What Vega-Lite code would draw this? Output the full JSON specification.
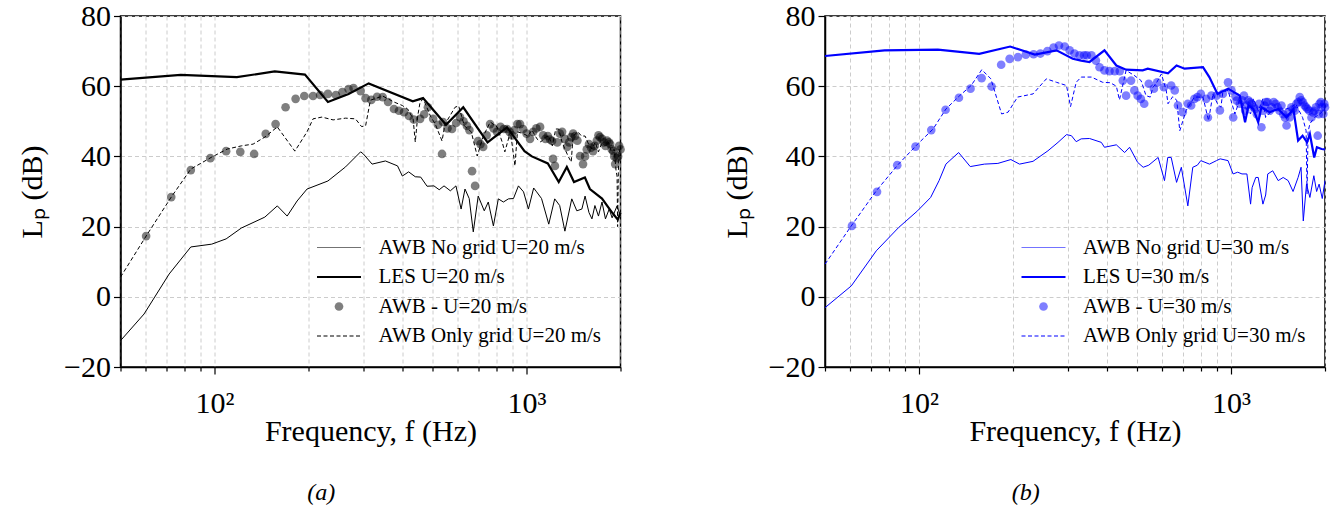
{
  "$schema": "https://vega.github.io/schema/vega-lite/v6.json",
  "background": "white",
  "padding": {"left": 16.5, "top": 0, "right": 4, "bottom": 4},
  "spacing": 94.5,
  "config": {
    "font": "Liberation Serif",
    "view": {"stroke": "black", "strokeWidth": 1.5},
    "axis": {
      "labelFont": "Liberation Serif", "titleFont": "Liberation Serif",
      "labelFontSize": 30, "titleFontSize": 30, "titleFontWeight": "normal",
      "labelColor": "black", "titleColor": "black",
      "domainColor": "black", "domainWidth": 1.5,
      "tickColor": "black", "tickWidth": 1.2,
      "gridColor": "#cccccc", "gridDash": [4, 3], "gridWidth": 1,
      "labelFlush": false, "labelOverlap": false
    }
  },
  "resolve": {"scale": {"color": "independent"}, "legend": {"color": "independent"}},
  "datasets": {
    "a": [
      {"s":"NG","f":50,"L":-12.5},{"s":"NG","f":59.5,"L":-4.9},{"s":"NG","f":71.6,"L":6.5},{"s":"NG","f":84,"L":14.2},{"s":"NG","f":98,"L":15},{"s":"NG","f":109,"L":16.5},{"s":"NG","f":122,"L":19.6},{"s":"NG","f":145,"L":22.7},{"s":"NG","f":159,"L":25.9},{"s":"NG","f":171,"L":23},{"s":"NG","f":184,"L":27.3},{"s":"NG","f":198,"L":30.7},{"s":"NG","f":231,"L":33},{"s":"NG","f":263,"L":37},{"s":"NG","f":294,"L":41.3},{"s":"NG","f":300,"L":40.7},{"s":"NG","f":320,"L":37.8},{"s":"NG","f":353,"L":38.7},{"s":"NG","f":386,"L":37.3},{"s":"NG","f":400,"L":34.4},{"s":"NG","f":419,"L":35.6},{"s":"NG","f":440,"L":34.2},{"s":"NG","f":458,"L":34.1},{"s":"NG","f":480,"L":31.5},{"s":"NG","f":505,"L":31.6},{"s":"NG","f":525,"L":30.5},{"s":"NG","f":544,"L":31.6},{"s":"NG","f":570,"L":30.2},{"s":"NG","f":594,"L":31.6},{"s":"NG","f":617,"L":25},{"s":"NG","f":635,"L":30.7},{"s":"NG","f":655,"L":28},{"s":"NG","f":675,"L":18.5},{"s":"NG","f":700,"L":28.7},{"s":"NG","f":732,"L":24.5},{"s":"NG","f":754,"L":27},{"s":"NG","f":783,"L":20.2},{"s":"NG","f":812,"L":27.9},{"s":"NG","f":843,"L":27},{"s":"NG","f":875,"L":27.9},{"s":"NG","f":908,"L":28},{"s":"NG","f":942,"L":31.6},{"s":"NG","f":978,"L":29.9},{"s":"NG","f":1014,"L":25},{"s":"NG","f":1054,"L":31},{"s":"NG","f":1077,"L":29.9},{"s":"NG","f":1117,"L":28},{"s":"NG","f":1178,"L":20.7},{"s":"NG","f":1231,"L":27.9},{"s":"NG","f":1277,"L":26},{"s":"NG","f":1327,"L":18.7},{"s":"NG","f":1396,"L":27.9},{"s":"NG","f":1449,"L":24.5},{"s":"NG","f":1504,"L":25},{"s":"NG","f":1540,"L":28.7},{"s":"NG","f":1585,"L":24},{"s":"NG","f":1620,"L":22.2},{"s":"NG","f":1656,"L":26},{"s":"NG","f":1700,"L":23},{"s":"NG","f":1745,"L":27},{"s":"NG","f":1790,"L":22.2},{"s":"NG","f":1840,"L":25},{"s":"NG","f":1880,"L":22.5},{"s":"NG","f":1950,"L":25.9},{"s":"NG","f":2000,"L":23},
      {"s":"LES","f":50,"L":61.9},{"s":"LES","f":78,"L":63.2},{"s":"LES","f":118,"L":62.6},{"s":"LES","f":156,"L":64.2},{"s":"LES","f":195,"L":63.3},{"s":"LES","f":231,"L":55.5},{"s":"LES","f":269,"L":57.8},{"s":"LES","f":312,"L":60.8},{"s":"LES","f":432,"L":55.7},{"s":"LES","f":466,"L":56.6},{"s":"LES","f":552,"L":49},{"s":"LES","f":627,"L":54},{"s":"LES","f":750,"L":44},{"s":"LES","f":866,"L":48.3},{"s":"LES","f":985,"L":41.5},{"s":"LES","f":1040,"L":40},{"s":"LES","f":1170,"L":38},{"s":"LES","f":1268,"L":32.7},{"s":"LES","f":1346,"L":37},{"s":"LES","f":1419,"L":32.7},{"s":"LES","f":1538,"L":34},{"s":"LES","f":1596,"L":30.7},{"s":"LES","f":1745,"L":28},{"s":"LES","f":1880,"L":24},{"s":"LES","f":1960,"L":22},{"s":"LES","f":2000,"L":24},
      {"s":"OG","f":50,"L":5.6},{"s":"OG","f":60.4,"L":17.3},{"s":"OG","f":72.7,"L":28.4},{"s":"OG","f":84,"L":36.4},{"s":"OG","f":98,"L":39.8},{"s":"OG","f":110,"L":42.1},{"s":"OG","f":122,"L":43},{"s":"OG","f":133,"L":43.5},{"s":"OG","f":145,"L":45.5},{"s":"OG","f":159,"L":48.4},{"s":"OG","f":181,"L":41.5},{"s":"OG","f":198,"L":47},{"s":"OG","f":207,"L":50.7},{"s":"OG","f":221,"L":51.2},{"s":"OG","f":240,"L":50.4},{"s":"OG","f":263,"L":50.9},{"s":"OG","f":283,"L":50.7},{"s":"OG","f":296,"L":48.5},{"s":"OG","f":305,"L":48.7},{"s":"OG","f":316,"L":56},{"s":"OG","f":346,"L":57.2},{"s":"OG","f":376,"L":55.5},{"s":"OG","f":400,"L":54.5},{"s":"OG","f":416,"L":53.5},{"s":"OG","f":433,"L":50.7},{"s":"OG","f":440,"L":44.1},{"s":"OG","f":448,"L":51.5},{"s":"OG","f":456,"L":55.5},{"s":"OG","f":467,"L":56.4},{"s":"OG","f":492,"L":51.5},{"s":"OG","f":510,"L":49.2},{"s":"OG","f":536,"L":44.4},{"s":"OG","f":548,"L":49.2},{"s":"OG","f":590,"L":54},{"s":"OG","f":606,"L":54.4},{"s":"OG","f":632,"L":48.7},{"s":"OG","f":665,"L":47},{"s":"OG","f":695,"L":40.1},{"s":"OG","f":727,"L":45.8},{"s":"OG","f":765,"L":49.8},{"s":"OG","f":805,"L":48.4},{"s":"OG","f":836,"L":44},{"s":"OG","f":852,"L":41.3},{"s":"OG","f":888,"L":47},{"s":"OG","f":918,"L":37.3},{"s":"OG","f":935,"L":47},{"s":"OG","f":975,"L":46.5},{"s":"OG","f":1010,"L":45.8},{"s":"OG","f":1040,"L":47.5},{"s":"OG","f":1080,"L":45},{"s":"OG","f":1110,"L":44.1},{"s":"OG","f":1150,"L":45.5},{"s":"OG","f":1178,"L":45.8},{"s":"OG","f":1210,"L":43},{"s":"OG","f":1240,"L":47.8},{"s":"OG","f":1268,"L":47.8},{"s":"OG","f":1300,"L":44},{"s":"OG","f":1327,"L":42.1},{"s":"OG","f":1360,"L":40},{"s":"OG","f":1390,"L":38.4},{"s":"OG","f":1410,"L":45.8},{"s":"OG","f":1460,"L":47},{"s":"OG","f":1500,"L":45.8},{"s":"OG","f":1540,"L":45.8},{"s":"OG","f":1580,"L":43.5},{"s":"OG","f":1620,"L":42.1},{"s":"OG","f":1660,"L":44},{"s":"OG","f":1700,"L":41.3},{"s":"OG","f":1745,"L":44},{"s":"OG","f":1787,"L":43},{"s":"OG","f":1830,"L":44},{"s":"OG","f":1870,"L":41.3},{"s":"OG","f":1910,"L":42},{"s":"OG","f":1935,"L":36},{"s":"OG","f":1950,"L":34.4},{"s":"OG","f":1958,"L":20},{"s":"OG","f":1968,"L":35},{"s":"OG","f":1980,"L":42},{"s":"OG","f":2000,"L":40},
      {"s":"AWB","f":60.4,"L":17.3},{"s":"AWB","f":72.7,"L":28.4},{"s":"AWB","f":84,"L":36.1},{"s":"AWB","f":97,"L":39.5},{"s":"AWB","f":109,"L":41.5},{"s":"AWB","f":121,"L":41.3},{"s":"AWB","f":134,"L":40.7},{"s":"AWB","f":146,"L":46.4},{"s":"AWB","f":157,"L":49.2},{"s":"AWB","f":169,"L":54},{"s":"AWB","f":182,"L":56.4},{"s":"AWB","f":194,"L":57.2},{"s":"AWB","f":207,"L":57.2},{"s":"AWB","f":218,"L":57.5},{"s":"AWB","f":231,"L":57.8},{"s":"AWB","f":245,"L":57.5},{"s":"AWB","f":257,"L":58.3},{"s":"AWB","f":269,"L":59.2},{"s":"AWB","f":279,"L":59.5},{"s":"AWB","f":294,"L":58.6},{"s":"AWB","f":305,"L":56.6},{"s":"AWB","f":318,"L":56.1},{"s":"AWB","f":332,"L":57},{"s":"AWB","f":346,"L":56.9},{"s":"AWB","f":360,"L":55.5},{"s":"AWB","f":376,"L":53.5},{"s":"AWB","f":390,"L":53},{"s":"AWB","f":405,"L":52.6},{"s":"AWB","f":420,"L":51.5},{"s":"AWB","f":435,"L":50.5},{"s":"AWB","f":456,"L":50.7},{"s":"AWB","f":470,"L":52},{"s":"AWB","f":483,"L":54},{"s":"AWB","f":502,"L":50.7},{"s":"AWB","f":520,"L":49},{"s":"AWB","f":536,"L":40.7},{"s":"AWB","f":540,"L":49.8},{"s":"AWB","f":558,"L":48},{"s":"AWB","f":577,"L":47.8},{"s":"AWB","f":595,"L":49.5},{"s":"AWB","f":612,"L":51.2},{"s":"AWB","f":628,"L":50},{"s":"AWB","f":644,"L":48.7},{"s":"AWB","f":656,"L":47.5},{"s":"AWB","f":669,"L":35.8},{"s":"AWB","f":684,"L":31.6},{"s":"AWB","f":699,"L":44.4},{"s":"AWB","f":712,"L":43.5},{"s":"AWB","f":726,"L":42.7},{"s":"AWB","f":745,"L":46},{"s":"AWB","f":764,"L":49.2},{"s":"AWB","f":784,"L":48},{"s":"AWB","f":804,"L":47},{"s":"AWB","f":825,"L":48.4},{"s":"AWB","f":845,"L":47.8},{"s":"AWB","f":866,"L":47.8},{"s":"AWB","f":882,"L":47},{"s":"AWB","f":899,"L":46},{"s":"AWB","f":915,"L":47.5},{"s":"AWB","f":935,"L":49.2},{"s":"AWB","f":953,"L":49.2},{"s":"AWB","f":975,"L":47.8},{"s":"AWB","f":1000,"L":46.5},{"s":"AWB","f":1026,"L":45},{"s":"AWB","f":1050,"L":47},{"s":"AWB","f":1075,"L":48},{"s":"AWB","f":1105,"L":48.4},{"s":"AWB","f":1130,"L":46},{"s":"AWB","f":1150,"L":45},{"s":"AWB","f":1170,"L":45.8},{"s":"AWB","f":1190,"L":44.8},{"s":"AWB","f":1207,"L":44.4},{"s":"AWB","f":1216,"L":39.3},{"s":"AWB","f":1233,"L":37.3},{"s":"AWB","f":1255,"L":44},{"s":"AWB","f":1278,"L":46.5},{"s":"AWB","f":1300,"L":47},{"s":"AWB","f":1325,"L":45},{"s":"AWB","f":1349,"L":42.7},{"s":"AWB","f":1370,"L":44},{"s":"AWB","f":1390,"L":45.5},{"s":"AWB","f":1410,"L":46.5},{"s":"AWB","f":1430,"L":45.8},{"s":"AWB","f":1455,"L":44.5},{"s":"AWB","f":1484,"L":40.1},{"s":"AWB","f":1517,"L":37.8},{"s":"AWB","f":1540,"L":40},{"s":"AWB","f":1560,"L":42},{"s":"AWB","f":1585,"L":43.5},{"s":"AWB","f":1610,"L":42.5},{"s":"AWB","f":1633,"L":41.5},{"s":"AWB","f":1655,"L":43},{"s":"AWB","f":1680,"L":44.5},{"s":"AWB","f":1700,"L":46},{"s":"AWB","f":1720,"L":45.5},{"s":"AWB","f":1746,"L":45},{"s":"AWB","f":1770,"L":44},{"s":"AWB","f":1790,"L":43},{"s":"AWB","f":1810,"L":44.5},{"s":"AWB","f":1835,"L":44},{"s":"AWB","f":1853,"L":43.5},{"s":"AWB","f":1875,"L":42},{"s":"AWB","f":1895,"L":41.5},{"s":"AWB","f":1910,"L":40},{"s":"AWB","f":1923,"L":37.8},{"s":"AWB","f":1945,"L":39.5},{"s":"AWB","f":1965,"L":40},{"s":"AWB","f":1980,"L":43},{"s":"AWB","f":2000,"L":42}
    ],
    "b": [
      {"s":"NG","f":50,"L":-3.1},{"s":"NG","f":60.7,"L":3.1},{"s":"NG","f":73,"L":13.1},{"s":"NG","f":86,"L":19.7},{"s":"NG","f":99,"L":24.5},{"s":"NG","f":109,"L":28.3},{"s":"NG","f":116,"L":33.1},{"s":"NG","f":122,"L":37.8},{"s":"NG","f":134,"L":41.1},{"s":"NG","f":146,"L":37.1},{"s":"NG","f":162,"L":37.8},{"s":"NG","f":179,"L":38},{"s":"NG","f":197,"L":39.1},{"s":"NG","f":210,"L":37.8},{"s":"NG","f":232,"L":38.6},{"s":"NG","f":259,"L":41.6},{"s":"NG","f":279,"L":44},{"s":"NG","f":297,"L":46.2},{"s":"NG","f":308,"L":45.9},{"s":"NG","f":319,"L":44.2},{"s":"NG","f":331,"L":45},{"s":"NG","f":352,"L":45.1},{"s":"NG","f":384,"L":44},{"s":"NG","f":393,"L":42.6},{"s":"NG","f":429,"L":43.3},{"s":"NG","f":456,"L":41.1},{"s":"NG","f":473,"L":42.6},{"s":"NG","f":502,"L":38.3},{"s":"NG","f":523,"L":36.9},{"s":"NG","f":545,"L":37.5},{"s":"NG","f":584,"L":39.7},{"s":"NG","f":612,"L":33.1},{"s":"NG","f":627,"L":39.7},{"s":"NG","f":643,"L":39.7},{"s":"NG","f":669,"L":32.6},{"s":"NG","f":693,"L":36.9},{"s":"NG","f":727,"L":25.9},{"s":"NG","f":754,"L":36.9},{"s":"NG","f":780,"L":37.5},{"s":"NG","f":800,"L":38.8},{"s":"NG","f":853,"L":37.8},{"s":"NG","f":898,"L":38.8},{"s":"NG","f":923,"L":39.3},{"s":"NG","f":978,"L":38.8},{"s":"NG","f":1015,"L":35},{"s":"NG","f":1050,"L":35.5},{"s":"NG","f":1084,"L":35},{"s":"NG","f":1124,"L":35},{"s":"NG","f":1155,"L":26.4},{"s":"NG","f":1168,"L":31.1},{"s":"NG","f":1200,"L":34},{"s":"NG","f":1222,"L":34},{"s":"NG","f":1265,"L":26.4},{"s":"NG","f":1291,"L":29},{"s":"NG","f":1311,"L":35},{"s":"NG","f":1360,"L":35.9},{"s":"NG","f":1416,"L":33.1},{"s":"NG","f":1469,"L":34},{"s":"NG","f":1524,"L":33.1},{"s":"NG","f":1580,"L":30},{"s":"NG","f":1640,"L":34},{"s":"NG","f":1676,"L":36.9},{"s":"NG","f":1704,"L":21.6},{"s":"NG","f":1745,"L":32.1},{"s":"NG","f":1789,"L":28.3},{"s":"NG","f":1842,"L":34.5},{"s":"NG","f":1880,"L":30},{"s":"NG","f":1915,"L":32.1},{"s":"NG","f":1960,"L":28},{"s":"NG","f":2000,"L":33.1},
      {"s":"LES","f":50,"L":68.6},{"s":"LES","f":77.6,"L":70.2},{"s":"LES","f":115,"L":70.4},{"s":"LES","f":156,"L":69.2},{"s":"LES","f":196,"L":71.3},{"s":"LES","f":235,"L":69},{"s":"LES","f":276,"L":70.2},{"s":"LES","f":311,"L":67.8},{"s":"LES","f":331,"L":67.3},{"s":"LES","f":352,"L":66.9},{"s":"LES","f":393,"L":70.2},{"s":"LES","f":429,"L":65.9},{"s":"LES","f":461,"L":64.7},{"s":"LES","f":521,"L":64.5},{"s":"LES","f":541,"L":65},{"s":"LES","f":628,"L":63.7},{"s":"LES","f":669,"L":65.9},{"s":"LES","f":710,"L":65},{"s":"LES","f":813,"L":65.4},{"s":"LES","f":852,"L":62.6},{"s":"LES","f":905,"L":57.8},{"s":"LES","f":928,"L":58.3},{"s":"LES","f":978,"L":59.3},{"s":"LES","f":1067,"L":57.3},{"s":"LES","f":1109,"L":49.7},{"s":"LES","f":1137,"L":54.5},{"s":"LES","f":1179,"L":53.5},{"s":"LES","f":1222,"L":49.7},{"s":"LES","f":1251,"L":54},{"s":"LES","f":1330,"L":52.6},{"s":"LES","f":1416,"L":53.5},{"s":"LES","f":1506,"L":51.1},{"s":"LES","f":1584,"L":53.5},{"s":"LES","f":1640,"L":44.5},{"s":"LES","f":1695,"L":45.9},{"s":"LES","f":1752,"L":44},{"s":"LES","f":1789,"L":46.4},{"s":"LES","f":1847,"L":39.7},{"s":"LES","f":1884,"L":42.6},{"s":"LES","f":1950,"L":42.1},{"s":"LES","f":2000,"L":42},
      {"s":"OG","f":50,"L":9.3},{"s":"OG","f":60.7,"L":20.2},{"s":"OG","f":73,"L":30.2},{"s":"OG","f":86,"L":37.8},{"s":"OG","f":99,"L":43.5},{"s":"OG","f":111,"L":47.8},{"s":"OG","f":122,"L":53.5},{"s":"OG","f":135,"L":57.3},{"s":"OG","f":147,"L":60.2},{"s":"OG","f":159,"L":64.7},{"s":"OG","f":170,"L":62.1},{"s":"OG","f":184,"L":52.1},{"s":"OG","f":193,"L":52.6},{"s":"OG","f":207,"L":56.9},{"s":"OG","f":232,"L":57.8},{"s":"OG","f":256,"L":62.1},{"s":"OG","f":276,"L":61.1},{"s":"OG","f":297,"L":60.2},{"s":"OG","f":306,"L":54.2},{"s":"OG","f":319,"L":61.1},{"s":"OG","f":331,"L":62.6},{"s":"OG","f":357,"L":62.6},{"s":"OG","f":388,"L":61.1},{"s":"OG","f":410,"L":61},{"s":"OG","f":429,"L":60},{"s":"OG","f":439,"L":56.1},{"s":"OG","f":461,"L":64.5},{"s":"OG","f":489,"L":63.1},{"s":"OG","f":515,"L":61.6},{"s":"OG","f":534,"L":57.3},{"s":"OG","f":551,"L":56.9},{"s":"OG","f":562,"L":59.7},{"s":"OG","f":575,"L":60.7},{"s":"OG","f":598,"L":63.5},{"s":"OG","f":620,"L":58.8},{"s":"OG","f":628,"L":55},{"s":"OG","f":650,"L":57},{"s":"OG","f":670,"L":56},{"s":"OG","f":685,"L":47.3},{"s":"OG","f":718,"L":53.1},{"s":"OG","f":763,"L":56.9},{"s":"OG","f":813,"L":56.9},{"s":"OG","f":847,"L":50.2},{"s":"OG","f":875,"L":57.8},{"s":"OG","f":905,"L":55},{"s":"OG","f":928,"L":54},{"s":"OG","f":941,"L":58.3},{"s":"OG","f":978,"L":58.8},{"s":"OG","f":1029,"L":52.1},{"s":"OG","f":1065,"L":56},{"s":"OG","f":1110,"L":54},{"s":"OG","f":1155,"L":52.1},{"s":"OG","f":1179,"L":56.4},{"s":"OG","f":1222,"L":53},{"s":"OG","f":1265,"L":56.4},{"s":"OG","f":1290,"L":51.1},{"s":"OG","f":1350,"L":53},{"s":"OG","f":1420,"L":53.5},{"s":"OG","f":1500,"L":53.5},{"s":"OG","f":1560,"L":54},{"s":"OG","f":1610,"L":55},{"s":"OG","f":1695,"L":51.1},{"s":"OG","f":1740,"L":47.3},{"s":"OG","f":1752,"L":29.3},{"s":"OG","f":1765,"L":47},{"s":"OG","f":1789,"L":49.3},{"s":"OG","f":1850,"L":51.1},{"s":"OG","f":1920,"L":52},{"s":"OG","f":2000,"L":53.5},
      {"s":"AWB","f":61,"L":20.2},{"s":"AWB","f":73.4,"L":29.9},{"s":"AWB","f":85.2,"L":37.5},{"s":"AWB","f":97.5,"L":42.8},{"s":"AWB","f":109.5,"L":47.5},{"s":"AWB","f":121.7,"L":53.3},{"s":"AWB","f":134.3,"L":56.7},{"s":"AWB","f":146.3,"L":59.3},{"s":"AWB","f":158.8,"L":62.3},{"s":"AWB","f":170.9,"L":59.9},{"s":"AWB","f":183.4,"L":66.1},{"s":"AWB","f":195.2,"L":67.8},{"s":"AWB","f":207.6,"L":68.3},{"s":"AWB","f":220,"L":69},{"s":"AWB","f":233,"L":69.1},{"s":"AWB","f":245,"L":69.3},{"s":"AWB","f":258,"L":70},{"s":"AWB","f":270,"L":71},{"s":"AWB","f":281,"L":71.6},{"s":"AWB","f":293,"L":71.3},{"s":"AWB","f":304,"L":70.2},{"s":"AWB","f":315,"L":69.3},{"s":"AWB","f":327,"L":68.8},{"s":"AWB","f":338,"L":68.8},{"s":"AWB","f":345,"L":68.8},{"s":"AWB","f":357,"L":68.8},{"s":"AWB","f":369,"L":67.3},{"s":"AWB","f":379,"L":65.4},{"s":"AWB","f":393,"L":64.5},{"s":"AWB","f":408,"L":64.3},{"s":"AWB","f":424,"L":64.3},{"s":"AWB","f":440,"L":64.3},{"s":"AWB","f":450,"L":61.6},{"s":"AWB","f":461,"L":57.3},{"s":"AWB","f":478,"L":61.6},{"s":"AWB","f":490,"L":58.8},{"s":"AWB","f":502,"L":57.3},{"s":"AWB","f":514,"L":56.4},{"s":"AWB","f":527,"L":55},{"s":"AWB","f":545,"L":60.7},{"s":"AWB","f":566,"L":59.3},{"s":"AWB","f":580,"L":61.1},{"s":"AWB","f":609,"L":59.7},{"s":"AWB","f":643,"L":60.2},{"s":"AWB","f":660,"L":58.8},{"s":"AWB","f":676,"L":54.5},{"s":"AWB","f":700,"L":52.6},{"s":"AWB","f":727,"L":55},{"s":"AWB","f":745,"L":54.5},{"s":"AWB","f":763,"L":56.4},{"s":"AWB","f":780,"L":56.9},{"s":"AWB","f":800,"L":57.8},{"s":"AWB","f":832,"L":56.4},{"s":"AWB","f":843,"L":51.1},{"s":"AWB","f":865,"L":57.3},{"s":"AWB","f":898,"L":57.3},{"s":"AWB","f":921,"L":53.1},{"s":"AWB","f":941,"L":57.8},{"s":"AWB","f":978,"L":61.1},{"s":"AWB","f":1003,"L":58.8},{"s":"AWB","f":1016,"L":51.1},{"s":"AWB","f":1035,"L":57},{"s":"AWB","f":1043,"L":55.9},{"s":"AWB","f":1067,"L":55},{"s":"AWB","f":1085,"L":56},{"s":"AWB","f":1100,"L":57.3},{"s":"AWB","f":1110,"L":53},{"s":"AWB","f":1124,"L":54.5},{"s":"AWB","f":1135,"L":56},{"s":"AWB","f":1150,"L":55.5},{"s":"AWB","f":1165,"L":55},{"s":"AWB","f":1180,"L":54},{"s":"AWB","f":1195,"L":53.5},{"s":"AWB","f":1210,"L":52},{"s":"AWB","f":1230,"L":55},{"s":"AWB","f":1251,"L":48.3},{"s":"AWB","f":1265,"L":53},{"s":"AWB","f":1280,"L":54.5},{"s":"AWB","f":1295,"L":55.5},{"s":"AWB","f":1310,"L":55.5},{"s":"AWB","f":1330,"L":53},{"s":"AWB","f":1350,"L":54},{"s":"AWB","f":1370,"L":55.5},{"s":"AWB","f":1390,"L":55},{"s":"AWB","f":1410,"L":54},{"s":"AWB","f":1430,"L":53},{"s":"AWB","f":1450,"L":54.5},{"s":"AWB","f":1470,"L":52},{"s":"AWB","f":1490,"L":51},{"s":"AWB","f":1506,"L":48.8},{"s":"AWB","f":1525,"L":52.5},{"s":"AWB","f":1540,"L":51.1},{"s":"AWB","f":1560,"L":54},{"s":"AWB","f":1580,"L":53.5},{"s":"AWB","f":1600,"L":53},{"s":"AWB","f":1620,"L":55},{"s":"AWB","f":1640,"L":55.5},{"s":"AWB","f":1660,"L":56.9},{"s":"AWB","f":1680,"L":56},{"s":"AWB","f":1700,"L":55.4},{"s":"AWB","f":1720,"L":54.5},{"s":"AWB","f":1740,"L":54},{"s":"AWB","f":1760,"L":53.5},{"s":"AWB","f":1780,"L":53},{"s":"AWB","f":1810,"L":51.1},{"s":"AWB","f":1830,"L":52.5},{"s":"AWB","f":1850,"L":53},{"s":"AWB","f":1870,"L":54},{"s":"AWB","f":1895,"L":45.9},{"s":"AWB","f":1910,"L":52},{"s":"AWB","f":1920,"L":55},{"s":"AWB","f":1940,"L":55.5},{"s":"AWB","f":1950,"L":54},{"s":"AWB","f":1975,"L":52.1},{"s":"AWB","f":1990,"L":55},{"s":"AWB","f":2000,"L":54}
    ]
  },
  "hconcat": [
    {
      "width": 500, "height": 351,
      "title": {"text": "(a)", "orient": "bottom", "anchor": "middle", "frame": "bounds", "font": "Liberation Serif", "fontStyle": "italic", "fontWeight": "normal", "fontSize": 24, "offset": 35, "color": "black"},
      "data": {"name": "a"},
      "encoding": {
        "x": {"field": "f", "type": "quantitative", "title": "Frequency, f (Hz)",
          "scale": {"type": "log", "domain": [50, 2000], "nice": false},
          "axis": {"values": [50,60,70,80,90,100,200,300,400,500,600,700,800,900,1000,2000],
            "labelExpr": "datum.value == 100 ? '10²' : datum.value == 1000 ? '10³' : ''",
            "tickSize": {"condition": {"test": "datum.value == 100 || datum.value == 1000", "value": 7}, "value": 4},
            "labelPadding": 14, "titlePadding": -2}},
        "y": {"field": "L", "type": "quantitative", "title": "Lₚ (dB)",
          "scale": {"domain": [-20, 80], "nice": false},
          "axis": {"values": [-20, 0, 20, 40, 60, 80], "tickSize": 7, "labelPadding": 3, "titlePadding": 16}},
        "color": {"field": "s", "type": "nominal",
          "scale": {"domain": ["NG", "LES", "AWB", "OG"], "range": ["black", "black", "black", "black"]},
          "legend": {"orient": "none", "legendX": 208, "legendY": 221, "title": null,
            "labelExpr": "datum.label == 'NG' ? 'AWB No grid U=20 m/s' : datum.label == 'LES' ? 'LES U=20 m/s' : datum.label == 'AWB' ? 'AWB - U=20 m/s' : 'AWB Only grid U=20 m/s'",
            "labelFont": "Liberation Serif", "labelFontSize": 21, "labelColor": "black", "labelOffset": 29, "labelLimit": 400,
            "symbolSize": 400, "rowPadding": 7.5, "padding": 0,
            "encode": {"symbols": {"update": {
              "shape": {"signal": "datum.value == 'AWB' ? 'circle' : 'M-2.2,0H2.2'"},
              "size": {"signal": "datum.value == 'AWB' ? 75 : 400"},
              "strokeWidth": {"signal": "datum.value == 'LES' ? 2.2 : datum.value == 'AWB' ? 0 : 1.2"},
              "strokeDash": {"signal": "datum.value == 'OG' ? [4, 2.5] : []"},
              "fillOpacity": {"signal": "datum.value == 'AWB' ? 0.5 : 0"},
              "strokeOpacity": {"signal": "datum.value == 'NG' ? 0.55 : 1"},
              "opacity": {"value": 1}
            }}}}}
      },
      "layer": [
        {"transform": [{"filter": "datum.s == 'NG'"}], "mark": {"type": "line", "strokeWidth": 1}},
        {"transform": [{"filter": "datum.s == 'LES'"}], "mark": {"type": "line", "strokeWidth": 2.2}},
        {"transform": [{"filter": "datum.s == 'AWB'"}], "mark": {"type": "circle", "size": 75, "opacity": 0.5}},
        {"transform": [{"filter": "datum.s == 'OG'"}], "mark": {"type": "line", "strokeWidth": 1, "strokeDash": [4, 2.5]}}
      ]
    },
    {
      "width": 500, "height": 351,
      "title": {"text": "(b)", "orient": "bottom", "anchor": "middle", "frame": "bounds", "font": "Liberation Serif", "fontStyle": "italic", "fontWeight": "normal", "fontSize": 24, "offset": 35, "color": "black"},
      "data": {"name": "b"},
      "encoding": {
        "x": {"field": "f", "type": "quantitative", "title": "Frequency, f (Hz)",
          "scale": {"type": "log", "domain": [50, 2000], "nice": false},
          "axis": {"values": [50,60,70,80,90,100,200,300,400,500,600,700,800,900,1000,2000],
            "labelExpr": "datum.value == 100 ? '10²' : datum.value == 1000 ? '10³' : ''",
            "tickSize": {"condition": {"test": "datum.value == 100 || datum.value == 1000", "value": 7}, "value": 4},
            "labelPadding": 14, "titlePadding": -2}},
        "y": {"field": "L", "type": "quantitative", "title": "Lₚ (dB)",
          "scale": {"domain": [-20, 80], "nice": false},
          "axis": {"values": [-20, 0, 20, 40, 60, 80], "tickSize": 7, "labelPadding": 3, "titlePadding": 16}},
        "color": {"field": "s", "type": "nominal",
          "scale": {"domain": ["NG", "LES", "AWB", "OG"], "range": ["#0000ff", "#0000ff", "#0000ff", "#0000ff"]},
          "legend": {"orient": "none", "legendX": 208, "legendY": 221, "title": null,
            "labelExpr": "datum.label == 'NG' ? 'AWB No grid U=30 m/s' : datum.label == 'LES' ? 'LES U=30 m/s' : datum.label == 'AWB' ? 'AWB - U=30 m/s' : 'AWB Only grid U=30 m/s'",
            "labelFont": "Liberation Serif", "labelFontSize": 21, "labelColor": "black", "labelOffset": 29, "labelLimit": 400,
            "symbolSize": 400, "rowPadding": 7.5, "padding": 0,
            "encode": {"symbols": {"update": {
              "shape": {"signal": "datum.value == 'AWB' ? 'circle' : 'M-2.2,0H2.2'"},
              "size": {"signal": "datum.value == 'AWB' ? 75 : 400"},
              "strokeWidth": {"signal": "datum.value == 'LES' ? 2.2 : datum.value == 'AWB' ? 0 : 1.2"},
              "strokeDash": {"signal": "datum.value == 'OG' ? [4, 2.5] : []"},
              "fillOpacity": {"signal": "datum.value == 'AWB' ? 0.5 : 0"},
              "strokeOpacity": {"signal": "datum.value == 'NG' ? 0.55 : 1"},
              "opacity": {"value": 1}
            }}}}}
      },
      "layer": [
        {"transform": [{"filter": "datum.s == 'NG'"}], "mark": {"type": "line", "strokeWidth": 1}},
        {"transform": [{"filter": "datum.s == 'LES'"}], "mark": {"type": "line", "strokeWidth": 2.2}},
        {"transform": [{"filter": "datum.s == 'AWB'"}], "mark": {"type": "circle", "size": 75, "opacity": 0.5}},
        {"transform": [{"filter": "datum.s == 'OG'"}], "mark": {"type": "line", "strokeWidth": 1, "strokeDash": [4, 2.5]}}
      ]
    }
  ]
}
